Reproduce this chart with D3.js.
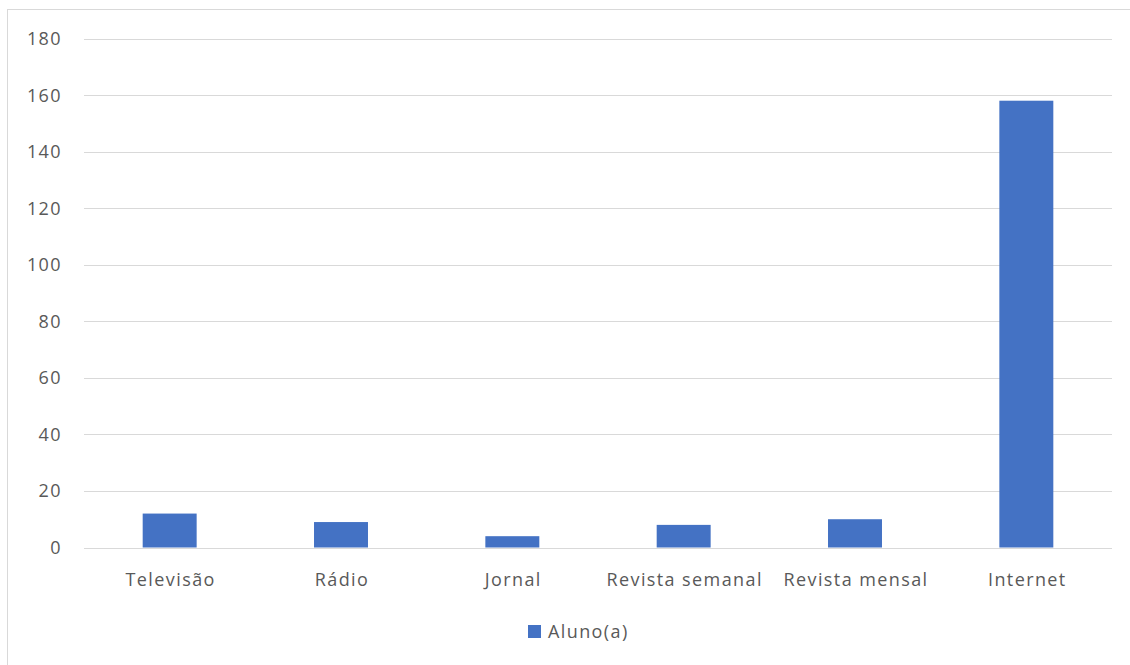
<!DOCTYPE html>
<html><head><meta charset="utf-8">
<script src="https://cdn.jsdelivr.net/npm/d3@7"></script>
<style>
html,body{margin:0;padding:0;background:#fff;}
svg text{font-family:"Open Sans","Noto Sans",sans-serif;fill:#595959;}
</style></head>
<body><svg id="c" width="1130" height="665"></svg>
<script>
const categories = ["Televisão","Rádio","Jornal","Revista semanal","Revista mensal","Internet"];
const values = [12, 9, 4, 8, 10, 158];
const yTicks = [0,20,40,60,80,100,120,140,160,180];
const seriesName = "Aluno(a)";

const svg = d3.select("#c");
const m = {left:84, right:1112, top:38.5, bottom:547.5};
svg.append("rect").attr("x",7.5).attr("y",9.5).attr("width",1140).attr("height",680)
  .attr("fill","#fff").attr("stroke","#d9d9d9").attr("stroke-width",1);

const x = d3.scaleBand().domain(categories).range([m.left,m.right]).paddingInner(0.685).paddingOuter(0.3425);
const y = d3.scaleLinear().domain([0,180]).range([m.bottom,m.top]);

svg.append("g").selectAll("line").data(yTicks).join("line")
  .attr("x1",m.left).attr("x2",m.right)
  .attr("y1",d=>Math.round(y(d))+0.5).attr("y2",d=>Math.round(y(d))+0.5)
  .attr("stroke","#d9d9d9").attr("stroke-width",1);

svg.append("g").selectAll("rect").data(values).join("rect")
  .attr("x",(d,i)=>x(categories[i])).attr("width",x.bandwidth())
  .attr("y",d=>y(d)).attr("height",d=>y(0)-y(d)).attr("fill","#4472c4");

const fs = 18, ls = "1.4px";
svg.append("g").selectAll("text").data(yTicks).join("text")
  .attr("x",62).attr("y",d=>y(d)).attr("dy","0.36em").attr("text-anchor","end")
  .attr("font-size",fs).style("letter-spacing",ls).text(d=>d);

svg.append("g").selectAll("text").data(categories).join("text")
  .attr("x",d=>x(d)+x.bandwidth()/2+1).attr("y",580).attr("dy","0.36em").attr("text-anchor","middle")
  .attr("font-size",fs).style("letter-spacing",ls).text(d=>d);

svg.append("rect").attr("x",528).attr("y",625).attr("width",13).attr("height",13).attr("fill","#4472c4");
svg.append("text").attr("x",548).attr("y",632).attr("dy","0.36em").attr("font-size",fs)
  .style("letter-spacing",ls).text(seriesName);
</script></body></html>
